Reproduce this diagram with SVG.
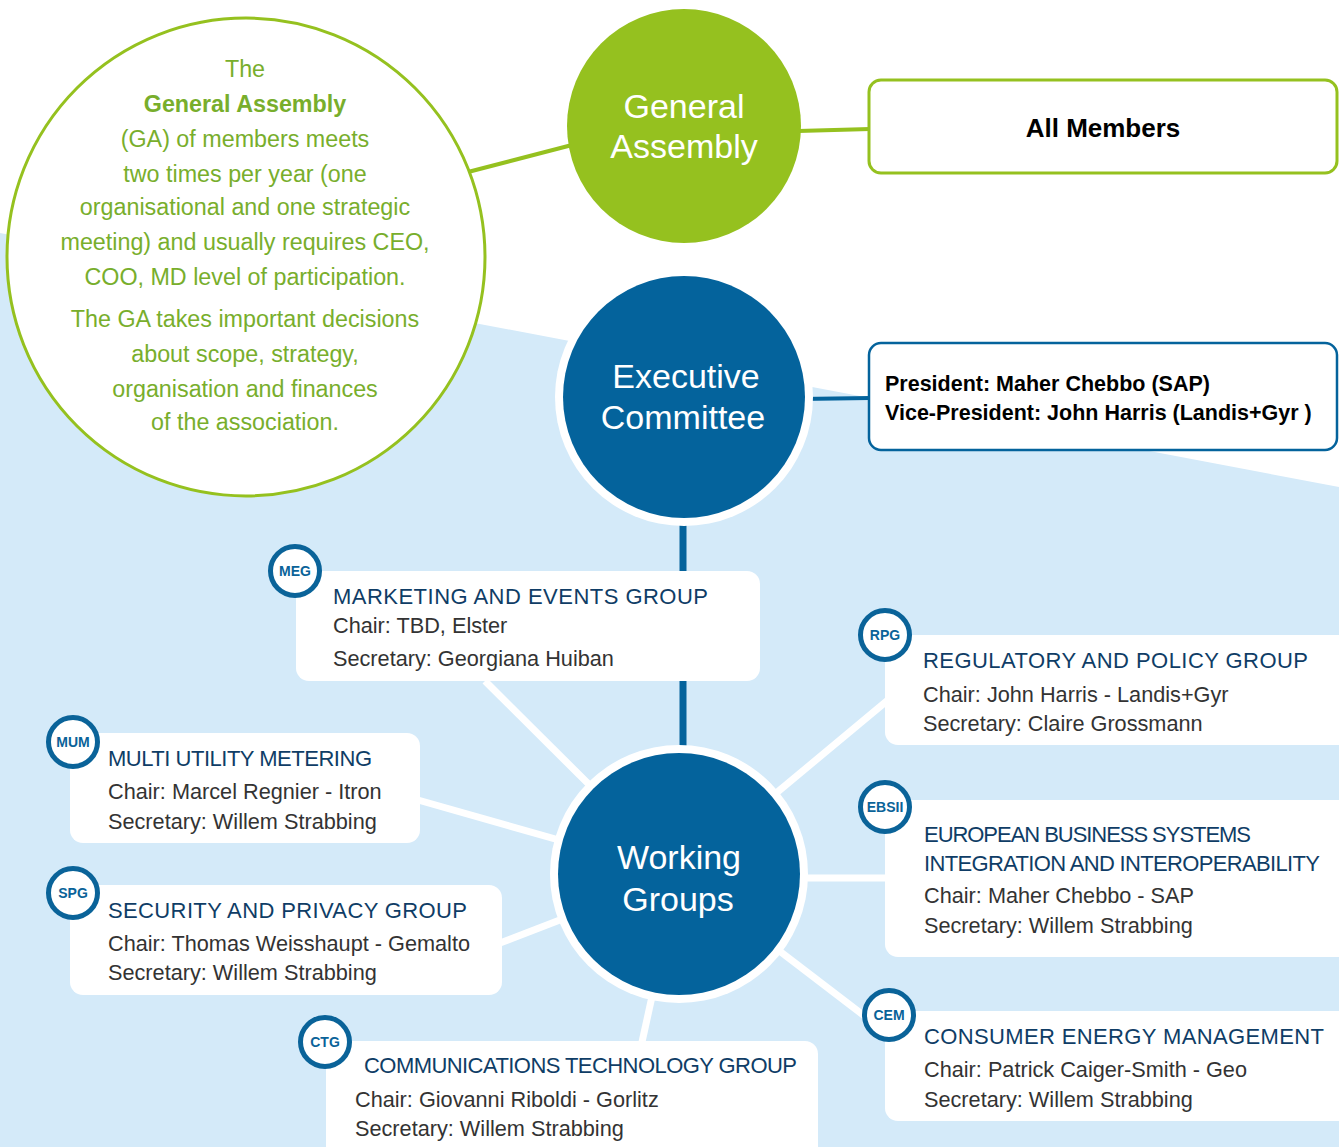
<svg xmlns="http://www.w3.org/2000/svg" width="1339" height="1147" viewBox="0 0 1339 1147">
<style>
.bg{fill:#d4eaf9}
.green-line{stroke:#95c11f;stroke-width:4;fill:none}
.blue-line{stroke:#04639c;fill:none}
.spoke{stroke:#ffffff;stroke-width:7;fill:none}
.ga-text{font-family:"Liberation Sans",Arial,sans-serif;font-size:23.3px;fill:#78ae2c;text-anchor:middle}
.circle-text{font-family:"Liberation Sans",Arial,sans-serif;font-size:34px;fill:#ffffff;text-anchor:middle}
.box{fill:#ffffff}
.badge{fill:#ffffff;stroke:#0a6399;stroke-width:5}
.badge-text{font-family:"Liberation Sans",Arial,sans-serif;font-size:14px;font-weight:bold;fill:#0a6399;text-anchor:middle}
.title{font-family:"Liberation Sans",Arial,sans-serif;font-size:22px;fill:#0f3d66}
.body{font-family:"Liberation Sans",Arial,sans-serif;font-size:21.7px;fill:#333333}
.bold{font-family:"Liberation Sans",Arial,sans-serif;font-weight:bold;fill:#000000}
</style>
<rect x="0" y="0" width="1339" height="1147" fill="#ffffff"/>
<polygon class="bg" points="0,233 1339,487 1339,1147 0,1147"/>

<g id="connectors">
  <line class="green-line" x1="468" y1="172" x2="572" y2="145"/>
  <line class="green-line" x1="798" y1="131" x2="870" y2="129"/>
  <line class="blue-line" stroke-width="4" x1="800" y1="399" x2="870" y2="398"/>
  <line class="blue-line" stroke-width="7" x1="683" y1="515" x2="683" y2="758"/>
  <line class="spoke" x1="679" y1="874" x2="485" y2="681"/>
  <line class="spoke" x1="679" y1="874" x2="418" y2="800"/>
  <line class="spoke" x1="679" y1="874" x2="500" y2="943"/>
  <line class="spoke" x1="679" y1="874" x2="642" y2="1042"/>
  <line class="spoke" x1="679" y1="874" x2="888" y2="700"/>
  <line class="spoke" x1="679" y1="878" x2="888" y2="878"/>
  <line class="spoke" x1="679" y1="874" x2="888" y2="1034"/>
</g>

<g id="ga-description">
  <circle cx="246" cy="257" r="239" fill="#ffffff" stroke="#95c11f" stroke-width="3"/>
  <text class="ga-text" x="245" y="77">The</text>
  <text class="ga-text" x="245" y="112" font-weight="bold">General Assembly</text>
  <text class="ga-text" x="245" y="147">(GA) of members meets</text>
  <text class="ga-text" x="245" y="182">two times per year (one</text>
  <text class="ga-text" x="245" y="215">organisational and one strategic</text>
  <text class="ga-text" x="245" y="250">meeting) and usually requires CEO,</text>
  <text class="ga-text" x="245" y="285">COO, MD level of participation.</text>
  <text class="ga-text" x="245" y="327">The GA takes important decisions</text>
  <text class="ga-text" x="245" y="362">about scope, strategy,</text>
  <text class="ga-text" x="245" y="397">organisation and finances</text>
  <text class="ga-text" x="245" y="430">of the association.</text>
</g>

<g id="general-assembly">
  <circle cx="684" cy="126" r="117" fill="#95c11f"/>
  <text class="circle-text" x="684" y="118">General</text>
  <text class="circle-text" x="684" y="158">Assembly</text>
</g>

<g id="all-members">
  <rect x="869" y="80" width="468" height="93" rx="12" fill="#ffffff" stroke="#95c11f" stroke-width="3"/>
  <text class="bold" x="1103" y="137" font-size="26" text-anchor="middle">All Members</text>
</g>

<g id="executive-committee">
  <circle cx="684" cy="397" r="129" fill="#ffffff"/>
  <circle cx="684" cy="397" r="121" fill="#04639c"/>
  <text class="circle-text" x="686" y="388">Executive</text>
  <text class="circle-text" x="683" y="429">Committee</text>
</g>

<g id="president">
  <rect x="869" y="343" width="468" height="107" rx="12" fill="#ffffff" stroke="#04639c" stroke-width="2.5"/>
  <text class="bold" x="885" y="391" font-size="21.5">President: Maher Chebbo (SAP)</text>
  <text class="bold" x="885" y="420" font-size="21.5">Vice-President: John Harris (Landis+Gyr )</text>
</g>

<g id="working-groups">
  <circle cx="679" cy="874" r="129" fill="#ffffff"/>
  <circle cx="679" cy="874" r="121" fill="#04639c"/>
  <text class="circle-text" x="679" y="869">Working</text>
  <text class="circle-text" x="678" y="911">Groups</text>
</g>

<g id="meg">
  <rect class="box" x="296" y="571" width="464" height="110" rx="13"/>
  <circle class="badge" cx="295" cy="571" r="24.5"/>
  <text class="badge-text" x="295" y="576">MEG</text>
  <text class="title" x="333" y="604" textLength="375">MARKETING AND EVENTS GROUP</text>
  <text class="body" x="333" y="633">Chair: TBD, Elster</text>
  <text class="body" x="333" y="666">Secretary: Georgiana Huiban</text>
</g>

<g id="mum">
  <rect class="box" x="70" y="733" width="350" height="110" rx="13"/>
  <circle class="badge" cx="73" cy="742" r="24.5"/>
  <text class="badge-text" x="73" y="747">MUM</text>
  <text class="title" x="108" y="766" textLength="264">MULTI UTILITY METERING</text>
  <text class="body" x="108" y="799">Chair: Marcel Regnier - Itron</text>
  <text class="body" x="108" y="829">Secretary: Willem Strabbing</text>
</g>

<g id="spg">
  <rect class="box" x="70" y="885" width="432" height="110" rx="13"/>
  <circle class="badge" cx="73" cy="893" r="24.5"/>
  <text class="badge-text" x="73" y="898">SPG</text>
  <text class="title" x="108" y="918" textLength="359">SECURITY AND PRIVACY GROUP</text>
  <text class="body" x="108" y="951">Chair: Thomas Weisshaupt - Gemalto</text>
  <text class="body" x="108" y="980">Secretary: Willem Strabbing</text>
</g>

<g id="ctg">
  <rect class="box" x="326" y="1041" width="492" height="130" rx="13"/>
  <circle class="badge" cx="325" cy="1042" r="24.5"/>
  <text class="badge-text" x="325" y="1047">CTG</text>
  <text class="title" x="364" y="1073" textLength="433">COMMUNICATIONS TECHNOLOGY GROUP</text>
  <text class="body" x="355" y="1107">Chair: Giovanni Riboldi - Gorlitz</text>
  <text class="body" x="355" y="1136">Secretary: Willem Strabbing</text>
</g>

<g id="rpg">
  <rect class="box" x="885" y="635" width="480" height="110" rx="13"/>
  <circle class="badge" cx="885" cy="635" r="24.5"/>
  <text class="badge-text" x="885" y="640">RPG</text>
  <text class="title" x="923" y="668" textLength="385">REGULATORY AND POLICY GROUP</text>
  <text class="body" x="923" y="702">Chair: John Harris - Landis+Gyr</text>
  <text class="body" x="923" y="731">Secretary: Claire Grossmann</text>
</g>

<g id="ebsii">
  <rect class="box" x="885" y="800" width="480" height="157" rx="13"/>
  <circle class="badge" cx="885" cy="807" r="24.5"/>
  <text class="badge-text" x="885" y="812" font-size="13">EBSII</text>
  <text class="title" x="924" y="842" textLength="327">EUROPEAN BUSINESS SYSTEMS</text>
  <text class="title" x="924" y="871" textLength="396">INTEGRATION AND INTEROPERABILITY</text>
  <text class="body" x="924" y="903">Chair: Maher Chebbo - SAP</text>
  <text class="body" x="924" y="933">Secretary: Willem Strabbing</text>
</g>

<g id="cem">
  <rect class="box" x="885" y="1011" width="480" height="110" rx="13"/>
  <circle class="badge" cx="889" cy="1015" r="24.5"/>
  <text class="badge-text" x="889" y="1020">CEM</text>
  <text class="title" x="924" y="1044" textLength="400">CONSUMER ENERGY MANAGEMENT</text>
  <text class="body" x="924" y="1077">Chair: Patrick Caiger-Smith - Geo</text>
  <text class="body" x="924" y="1107">Secretary: Willem Strabbing</text>
</g>
</svg>
